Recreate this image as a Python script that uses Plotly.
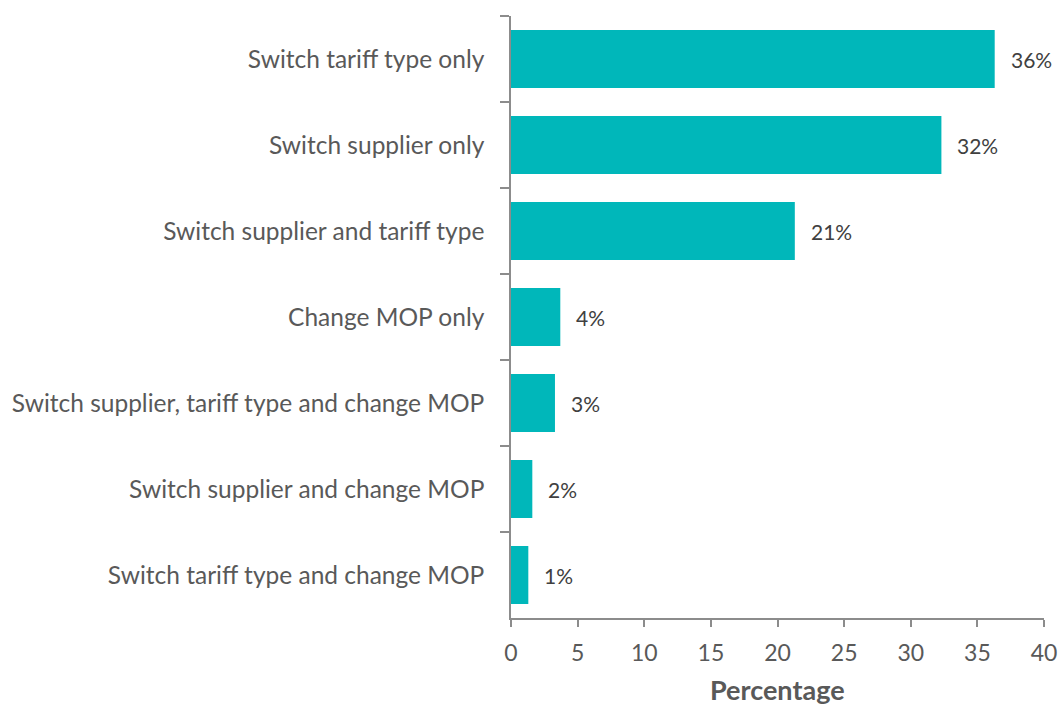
import plotly.graph_objects as go

# Share of switching actions (percentage of respondents)
categories = [
    "Switch tariff type only",
    "Switch supplier only",
    "Switch supplier and tariff type",
    "Change MOP only",
    "Switch supplier, tariff type and change MOP",
    "Switch supplier and change MOP",
    "Switch tariff type and change MOP",
]
values = [36.3, 32.3, 21.3, 3.7, 3.3, 1.6, 1.3]
x_ticks = [0, 5, 10, 15, 20, 25, 30, 35, 40]

BAR_COLOR = "#00B7BA"
AXIS_COLOR = "#8C8C8C"
TEXT_COLOR = "#595959"
FONT = "Lato, 'Open Sans', sans-serif"

fig = go.Figure(
    go.Bar(
        x=values,
        y=categories,
        orientation="h",
        marker=dict(color=BAR_COLOR, line=dict(width=0)),
        hoverinfo="x+y",
    )
)

# Value labels placed just past each bar end
for cat, val in zip(categories, values):
    fig.add_annotation(
        x=val, y=cat, xref="x", yref="y",
        text=f"{val:.0f}%", showarrow=False,
        xanchor="left", xshift=14,
        font=dict(family=FONT, size=21, color="#404040"),
    )

# X-axis title, set a little lower than the default title position
fig.add_annotation(
    x=0.5, y=0, xref="x domain", yref="y domain",
    text="<b>Percentage</b>", showarrow=False,
    xanchor="center", yanchor="middle", yshift=-71,
    font=dict(family=FONT, size=27, color=TEXT_COLOR),
)

fig.update_layout(
    width=1059, height=704,
    margin=dict(l=511, r=15, t=16, b=86, autoexpand=False),
    plot_bgcolor="white", paper_bgcolor="white",
    bargap=0.325,
    showlegend=False,
    font=dict(family=FONT, color=TEXT_COLOR),
)

fig.update_xaxes(
    range=[0, 40],
    tickvals=x_ticks,
    automargin=False,
    showgrid=False, zeroline=False,
    showline=True, linecolor=AXIS_COLOR, linewidth=1.5,
    ticks="outside", ticklen=7, tickcolor=AXIS_COLOR, tickwidth=1.5,
    tickfont=dict(family=FONT, size=23, color=TEXT_COLOR),
    ticklabelstandoff=7,
)

fig.update_yaxes(
    categoryorder="array", categoryarray=categories,
    autorange="reversed",
    automargin=False,
    showgrid=False, zeroline=False,
    showline=True, linecolor=AXIS_COLOR, linewidth=1.5,
    ticks="outside", tickson="boundaries", ticklen=9, tickcolor=AXIS_COLOR, tickwidth=1.5,
    tickfont=dict(family=FONT, size=24.5, color=TEXT_COLOR),
    ticklabelstandoff=20,
)

fig.write_html("out.html")
